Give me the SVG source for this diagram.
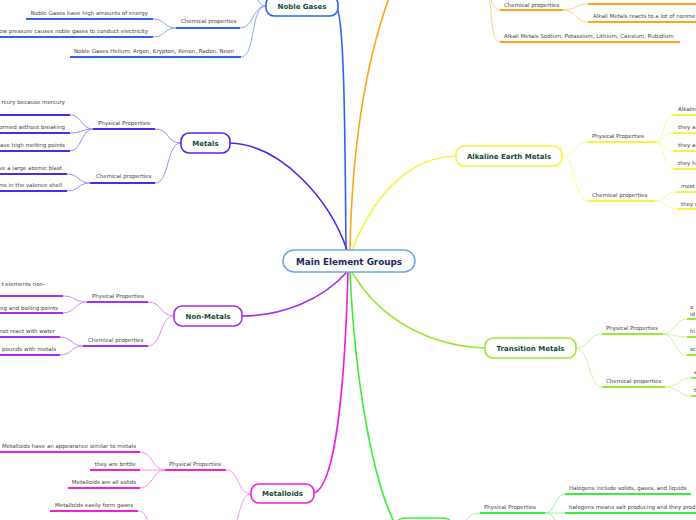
<svg xmlns="http://www.w3.org/2000/svg" width="696" height="520" viewBox="0 0 696 520">
<style>
text{font-family:"DejaVu Sans",Verdana,sans-serif;}
.leaf{font-size:5.5px;fill:#444;}
.end{text-anchor:end;}
.title{font-size:7px;font-weight:bold;fill:#124a3a;text-anchor:middle;}
.main{font-size:8.8px;font-weight:bold;fill:#1b2a55;text-anchor:middle;}
.n{fill:#fff;stroke-width:1.6;}
.c{fill:none;stroke-width:1.6;}
.u{fill:none;stroke-width:2;}
.s{fill:none;stroke-width:1;}
.blue{stroke:#2e62f0;} .blueL{stroke:#8aa8f8;}
.ind{stroke:#5128ea;} .indL{stroke:#a08cf6;}
.pur{stroke:#a52ff0;} .purL{stroke:#cf90f8;}
.mag{stroke:#f020d4;} .magL{stroke:#f890ee;}
.grn{stroke:#3aee3a;} .grnL{stroke:#a0f5a0;}
.lim{stroke:#98ea36;} .limL{stroke:#ccf59e;}
.yel{stroke:#f4f440;} .yelL{stroke:#fafa98;}
.org{stroke:#ffa41c;} .orgL{stroke:#ffcf88;}
</style>
<rect width="696" height="520" fill="#fff"/>
<g id="connectors">
  <path class="c blue" d="M346,250 C345,120 344,22 337,8"/>
  <path class="c org" d="M350,250 C352,150 365,60 392,-10"/>
  <path class="c yel" d="M352,250 C380,180 420,157 456,156"/>
  <path class="c lim" d="M352,272 C380,320 430,346 485,348"/>
  <path class="c grn" d="M350,272 C355,380 372,480 396,526"/>
  <path class="c mag" d="M348,272 C345,380 336,486 314,493"/>
  <path class="c pur" d="M347,272 C322,300 282,316 242,316"/>
  <path class="c ind" d="M347,250 C330,200 282,145 230,143"/>
  <!-- noble gases -->
  <path class="s blueL" d="M266,6 C252,6 254,28 240,28"/>
  <path class="s blueL" d="M266,6 C250,6 256,57 241,57"/>
  <path class="s blueL" d="M266,6 C258,6 258,-5 250,-8"/>
  <path class="s blueL" d="M176,28 C164,28 165,19 153,19"/>
  <path class="s blueL" d="M176,28 C164,28 165,37 153,37"/>
  <!-- metals -->
  <path class="s indL" d="M181,143 C166,143 170,129 155,129"/>
  <path class="s indL" d="M181,143 C166,143 170,183 155,183"/>
  <path class="s indL" d="M93,129 C81,129 82,115 70,115"/>
  <path class="s indL" d="M93,129 C81,129 82,133 70,133"/>
  <path class="s indL" d="M93,129 C81,129 82,151 70,151"/>
  <path class="s indL" d="M90,183 C78,183 79,174 67,174"/>
  <path class="s indL" d="M90,183 C78,183 79,191 67,191"/>
  <!-- non-metals -->
  <path class="s purL" d="M174,316 C160,316 162,302 148,302"/>
  <path class="s purL" d="M174,316 C160,316 162,346 148,346"/>
  <path class="s purL" d="M87,302 C75,302 75,296 63,296"/>
  <path class="s purL" d="M87,302 C75,302 75,313 63,313"/>
  <path class="s purL" d="M83,346 C71,346 72,337 60,337"/>
  <path class="s purL" d="M83,346 C71,346 72,355 60,355"/>
  <!-- metalloids -->
  <path class="s magL" d="M251,494 C238,494 239,470 226,470"/>
  <path class="s magL" d="M251,494 C240,494 240,520 232,532"/>
  <path class="s magL" d="M165,470 C152,470 153,452 140,452"/>
  <path class="s magL" d="M165,470 L140,470"/>
  <path class="s magL" d="M165,470 C152,470 153,488 140,488"/>
  <path class="s magL" d="M138,511 C146,511 146,520 152,528"/>
  <!-- halogens -->
  <path class="s grnL" d="M452,527 C466,527 466,513 480,513"/>
  <path class="s grnL" d="M545,513 C555,513 555,494 565,494"/>
  <path class="s grnL" d="M545,513 L565,513"/>
  <path class="s grnL" d="M545,513 C555,513 555,526 565,532"/>
  <!-- alkali metals -->
  <path class="s orgL" d="M485,-8 C492,-8 490,10 500,10"/>
  <path class="s orgL" d="M485,-8 C494,-8 488,42 500,42"/>
  <path class="s orgL" d="M563,10 C576,10 575,4 588,4"/>
  <path class="s orgL" d="M563,10 C576,10 575,22 588,22"/>
  <!-- alkaline earth -->
  <path class="s yelL" d="M562,156 C576,156 574,142 588,142"/>
  <path class="s yelL" d="M562,156 C576,156 574,201 588,201"/>
  <path class="s yelL" d="M655,142 C665,142 663,115 673,115"/>
  <path class="s yelL" d="M655,142 C665,142 663,133 673,133"/>
  <path class="s yelL" d="M655,142 C665,142 663,151 673,151"/>
  <path class="s yelL" d="M655,142 C665,142 663,169 673,169"/>
  <path class="s yelL" d="M655,201 C666,201 666,192 677,192"/>
  <path class="s yelL" d="M655,201 C666,201 666,209 677,209"/>
  <!-- transition -->
  <path class="s limL" d="M576,348 C590,348 588,334 602,334"/>
  <path class="s limL" d="M576,348 C590,348 588,387 602,387"/>
  <path class="s limL" d="M663,334 C675,334 675,319 687,319"/>
  <path class="s limL" d="M663,334 C675,334 675,337 687,337"/>
  <path class="s limL" d="M663,334 C675,334 675,355 687,355"/>
  <path class="s limL" d="M665,387 C679,387 679,378 691,378"/>
  <path class="s limL" d="M665,387 C679,387 679,396 691,396"/>
</g>
<g id="main">
  <rect class="n" x="283" y="250" width="132" height="22" rx="11" stroke="#6fa8dc"/>
  <text class="main" x="349" y="264.5">Main Element Groups</text>
</g>
<g id="noble-gases">
  <rect class="n blue" x="266" y="-4" width="72" height="20" rx="8"/>
  <text class="title" x="302" y="8.5">Noble Gases</text>
  <path class="u blue" d="M176,28 L240,28"/>
  <text class="leaf" x="181" y="23">Chemical properties</text>
  <path class="u blue" d="M26,19 L153,19"/>
  <text class="leaf end" x="148" y="15">Noble Gases have high amounts of energy</text>
  <path class="u blue" d="M0,37 L153,37"/>
  <text class="leaf end" x="148" y="33">Low pressure causes noble gases to conduct electricity</text>
  <path class="u blue" d="M70,57 L241,57"/>
  <text class="leaf" x="74" y="53">Noble Gases Helium, Argon, Krypton, Xenon, Radon, Neon</text>
</g>
<g id="metals">
  <rect class="n ind" x="181" y="133" width="49" height="20" rx="8"/>
  <text class="title" x="205.5" y="145.5">Metals</text>
  <path class="u ind" d="M93,129 L155,129"/>
  <text class="leaf" x="98" y="125">Physical Properties</text>
  <path class="u ind" d="M90,183 L155,183"/>
  <text class="leaf" x="96" y="178">Chemical properties</text>
  <path class="u ind" d="M0,115 L70,115"/>
  <text class="leaf end" x="65" y="103.5">rcury because mercury</text>
  <path class="u ind" d="M0,133 L70,133"/>
  <text class="leaf end" x="65" y="128.5">ormed without breaking</text>
  <path class="u ind" d="M0,151 L70,151"/>
  <text class="leaf end" x="65" y="146.5">ave high melting points</text>
  <path class="u ind" d="M0,174 L67,174"/>
  <text class="leaf end" x="62" y="169.5">ve a large atomic blast</text>
  <path class="u ind" d="M0,191 L67,191"/>
  <text class="leaf end" x="62" y="187">ms in the valence shell</text>
</g>
<g id="non-metals">
  <rect class="n pur" x="174" y="306" width="68" height="20" rx="8"/>
  <text class="title" x="208" y="318.5">Non-Metals</text>
  <path class="u pur" d="M87,302 L148,302"/>
  <text class="leaf" x="92" y="297.5">Physical Properties</text>
  <path class="u pur" d="M83,346 L148,346"/>
  <text class="leaf" x="88" y="342">Chemical properties</text>
  <path class="u pur" d="M0,296 L63,296"/>
  <text class="leaf end" x="45" y="285.5">t elements non-</text>
  <path class="u pur" d="M0,313 L63,313"/>
  <text class="leaf end" x="58" y="310">ing and boiling points</text>
  <path class="u pur" d="M0,337 L60,337"/>
  <text class="leaf end" x="55" y="333">not react with water</text>
  <path class="u pur" d="M0,355 L60,355"/>
  <text class="leaf end" x="56" y="351">pounds with metals</text>
</g>
<g id="metalloids">
  <rect class="n mag" x="251" y="484" width="63" height="19" rx="8"/>
  <text class="title" x="282.5" y="496">Metalloids</text>
  <path class="u mag" d="M165,470 L226,470"/>
  <text class="leaf" x="169" y="466">Physical Properties</text>
  <path class="u mag" d="M0,452 L140,452"/>
  <text class="leaf end" x="136" y="447.5">Metalloids have an appearance similar to metals</text>
  <path class="u mag" d="M90,470 L140,470"/>
  <text class="leaf end" x="136" y="465.5">they are brittle</text>
  <path class="u mag" d="M68,488 L140,488"/>
  <text class="leaf end" x="136" y="483.5">Metalloids are all solids</text>
  <path class="u mag" d="M50,511 L138,511"/>
  <text class="leaf end" x="133" y="506.5">Metalloids easily form gases</text>
</g>
<g id="halogens">
  <rect class="n grn" x="396" y="518" width="56" height="20" rx="8"/>
  <path class="u grn" d="M480,513 L545,513"/>
  <text class="leaf" x="484" y="508.5">Physical Properties</text>
  <path class="u grn" d="M565,494 L691,494"/>
  <text class="leaf" x="569" y="490">Halogens include solids, gases, and liquids</text>
  <path class="u grn" d="M565,513 L696,513"/>
  <text class="leaf" x="569" y="508.5">halogens means salt producing and they prod</text>
</g>
<g id="alkali-metals">
  <path class="u org" d="M500,10 L563,10"/>
  <text class="leaf" x="504" y="6.5">Chemical properties</text>
  <path class="u org" d="M588,4 L696,4"/>
  <path class="u org" d="M588,22 L696,22"/>
  <text class="leaf" x="593" y="17.5">Alkali Metals reacts to a lot of nonme</text>
  <path class="u org" d="M500,42 L680,42"/>
  <text class="leaf" x="504" y="37.5">Alkali Metals Sodium, Potassium, Lithium, Caesium, Rubidium</text>
</g>
<g id="alkaline-earth-metals">
  <rect class="n yel" x="456" y="146" width="106" height="20" rx="8"/>
  <text class="title" x="509" y="158.5">Alkaline Earth Metals</text>
  <path class="u yel" d="M588,142 L655,142"/>
  <text class="leaf" x="592" y="137.5">Physical Properties</text>
  <path class="u yel" d="M588,201 L655,201"/>
  <text class="leaf" x="592" y="196.5">Chemical properties</text>
  <path class="u yel" d="M673,115 L696,115"/>
  <text class="leaf" x="678" y="110.5">Alkaline</text>
  <path class="u yel" d="M673,133 L696,133"/>
  <text class="leaf" x="678" y="128.5">they ar</text>
  <path class="u yel" d="M673,151 L696,151"/>
  <text class="leaf" x="678" y="146.5">they ar</text>
  <path class="u yel" d="M673,169 L696,169"/>
  <text class="leaf" x="678" y="164.5">they ha</text>
  <path class="u yel" d="M677,192 L696,192"/>
  <text class="leaf" x="681" y="188">most</text>
  <path class="u yel" d="M677,209 L696,209"/>
  <text class="leaf" x="681" y="206">they r</text>
</g>
<g id="transition-metals">
  <rect class="n lim" x="485" y="338" width="91" height="20" rx="8"/>
  <text class="title" x="530.5" y="350.5">Transition Metals</text>
  <path class="u lim" d="M602,334 L663,334"/>
  <text class="leaf" x="606" y="330">Physical Properties</text>
  <path class="u lim" d="M602,387 L665,387"/>
  <text class="leaf" x="606" y="383">Chemical properties</text>
  <path class="u lim" d="M687,319 L696,319"/>
  <text class="leaf" x="690" y="308.5">o</text>
  <text class="leaf" x="690" y="315.5">id</text>
  <path class="u lim" d="M687,337 L696,337"/>
  <text class="leaf" x="690" y="333">hi</text>
  <path class="u lim" d="M687,355 L696,355"/>
  <text class="leaf" x="690" y="351">sc</text>
  <path class="u lim" d="M691,378 L696,378"/>
  <text class="leaf" x="694" y="374">a</text>
  <path class="u lim" d="M691,396 L696,396"/>
  <text class="leaf" x="694" y="392">t</text>
</g>
</svg>
